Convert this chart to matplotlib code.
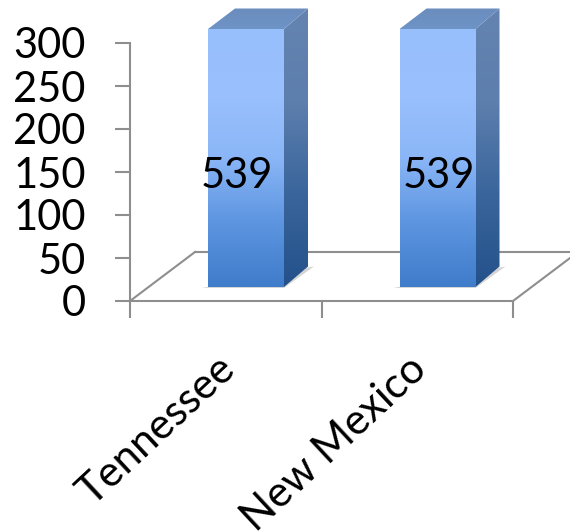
import numpy as np
import matplotlib
matplotlib.use('Agg')
from matplotlib import pyplot as plt
from matplotlib.colors import LinearSegmentedColormap
from matplotlib.patches import Polygon

states = ['Tennessee', 'New Mexico']
values = [539, 539]
yticks = [0, 50, 100, 150, 200, 250, 300]

plt.rcParams['font.family'] = ['Lato', 'DejaVu Sans']

W, H = 570, 532
fig = plt.figure(figsize=(W / 100, H / 100), dpi=100)
# axes box in pixels: x 130-513, y 43-301
ax = fig.add_axes([130 / W, 1 - 301 / H, 383 / W, 258 / H])
ymax = 300
px_x = 2 / 383
px_y = ymax / 258
grey = '#8e8e8e'
fs = 30

front_cm = LinearSegmentedColormap.from_list('f', ['#3f7cca', '#5d95e0', '#8ab6f7', '#9ac0fd', '#97bffc'])
side_cm = LinearSegmentedColormap.from_list('s', ['#24518a', '#3a659c', '#5d7fae', '#6483b0'])
top_cm = LinearSegmentedColormap.from_list('t', ['#6e93c6', '#6a8dbd'])
grad = np.linspace(0, 1, 256).reshape(-1, 1)


def face(pts, cm, z):
    xs, ys = zip(*pts)
    im = ax.imshow(grad, cmap=cm, origin='lower', aspect='auto', zorder=z,
                   extent=[min(xs), max(xs), min(ys), max(ys)], vmin=0, vmax=1)
    im.set_clip_path(Polygon(pts, closed=True, transform=ax.transData))
    # images stop at the axes box otherwise, the bars stick out above it
    im.set_clip_box(fig.bbox)


# floor
dx, dy = 65 * px_x, 49 * px_y
ax.plot([0, dx], [0, dy], color=grey, lw=1.5, zorder=1, clip_on=False)
ax.plot([dx, 2 + dx], [dy, dy], color=grey, lw=1.5, zorder=1, clip_on=False)
ax.plot([2, 2 + dx], [0, dy], color=grey, lw=1.5, zorder=1, clip_on=False)

# bars
bar_w = 76 * px_x
base = 14 * px_y
ox, oy = 24 * px_x, 20.5 * px_y
for i, (state, v) in enumerate(zip(states, values)):
    x0 = i + 78 * px_x
    x1 = x0 + bar_w
    # 539 is cut at the top of the value axis, bar sits on the floor
    top = base + min(v, ymax)
    # shadow
    ax.add_patch(Polygon([(x0 - 6 * px_x, base - 1 * px_y), (x1, base - 1 * px_y),
                          (x1 + ox + 6 * px_x, base + oy), (x1 + ox, base + oy - 1 * px_y)],
                         closed=True, fc='#c4c4c4', ec='none', alpha=0.7, zorder=2, clip_on=False))
    face([(x0, base), (x1, base), (x1, top), (x0, top)], front_cm, 4)
    face([(x1, base), (x1 + ox, base + oy), (x1 + ox, top + oy), (x1, top)], side_cm, 3)
    face([(x0, top), (x1, top), (x1 + ox, top + oy), (x0 + 27 * px_x, top + oy)], top_cm, 3)
    ax.text(x0 + 29 * px_x + i * 10 * px_x, 145, str(v), ha='center', va='center', fontsize=fs, color='black', zorder=6)

ax.set_xlim(0, 2)
ax.set_ylim(0, ymax)

for s in ['top', 'right']:
    ax.spines[s].set_visible(False)
for s in ['left', 'bottom']:
    ax.spines[s].set_color(grey)
    ax.spines[s].set_linewidth(1.5)

ax.set_yticks(yticks)
ax.set_yticklabels([str(t) for t in yticks], fontsize=fs)
ax.set_xticks([0, 1, 2])
ax.set_xticklabels([])
ax.tick_params(axis='y', length=11, width=1.5, color=grey, pad=21)
ax.tick_params(axis='x', length=12, width=1.5, color=grey)

for i, state in enumerate(states):
    ax.annotate(state, xy=(i + 0.55, 0), xycoords='data', xytext=(-14, -35), textcoords='offset points',
                rotation=43, ha='right', va='top', rotation_mode='anchor', fontsize=30.5, annotation_clip=False)

ax.patch.set_visible(False)
fig.savefig('out.png', dpi=100)
